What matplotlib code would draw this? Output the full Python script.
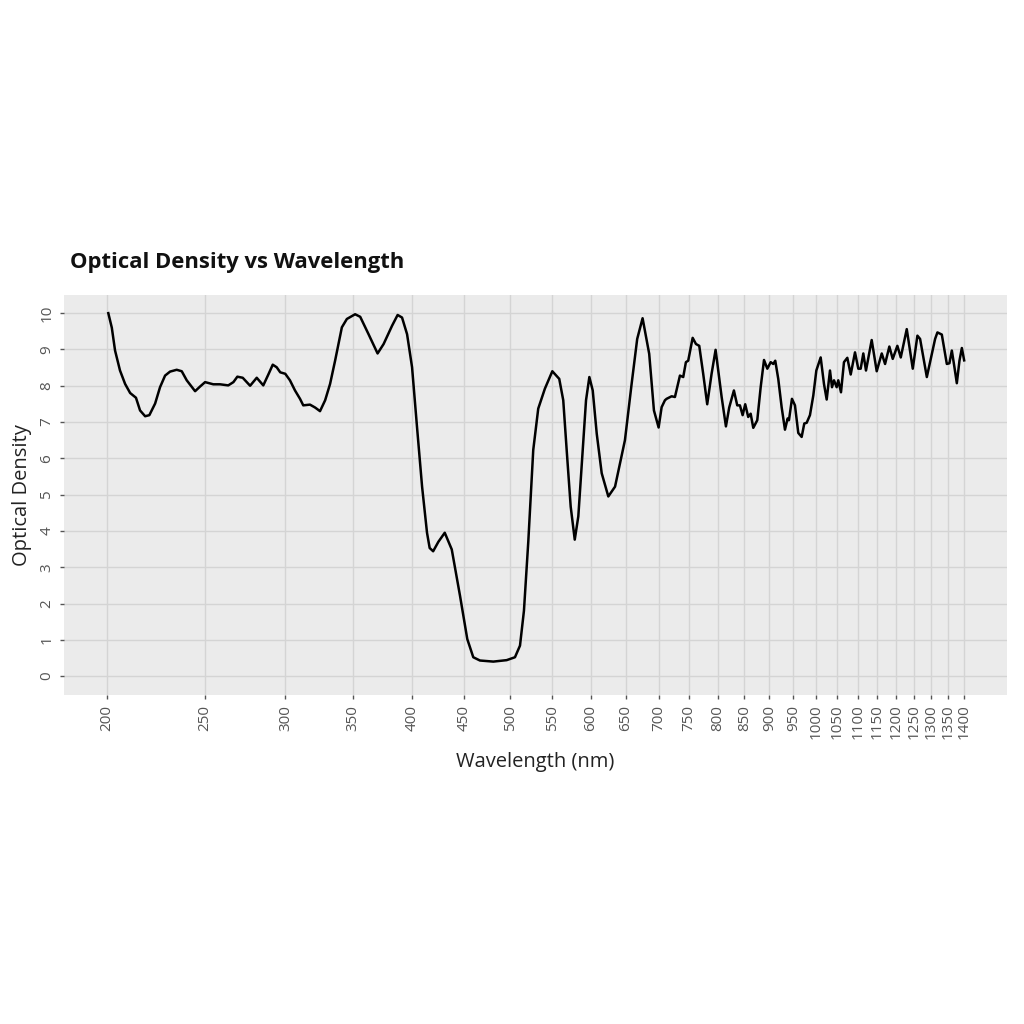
import numpy as np
import matplotlib
matplotlib.use("Agg")
import matplotlib.pyplot as plt
from matplotlib.ticker import FixedLocator, NullLocator

plt.rcParams['font.family'] = ['Open Sans', 'DejaVu Sans']

# === Data ===
wavelength = [
    200.7, 202.3, 203.8, 206.1, 208.5, 210.9, 213.7, 215.7, 218.2, 220.3,
    223.2, 225.7, 228.3, 230.9, 234.4, 237.1, 239.8, 244.4, 247.2, 250.0,
    254.7, 258.6, 263.5, 266.6, 269.0, 272.3, 276.9, 281.1, 285.3, 288.6,
    291.5, 294.1, 296.5, 299.9, 303.1, 306.6, 310.1, 312.4, 317.2, 320.9,
    324.5, 328.3, 332.0, 335.8, 341.0, 344.9, 351.4, 355.5, 362.3, 369.8,
    374.9, 382.1, 387.0, 390.9, 395.4, 399.9, 404.4, 409.1, 413.7, 416.2,
    419.5, 424.5, 430.7, 437.6, 445.9, 453.3, 459.5, 466.5, 480.9, 495.7,
    505.1, 510.9, 515.5, 520.6, 526.5, 532.5, 540.6, 549.8, 558.5, 563.6,
    568.0, 573.2, 578.5, 583.2, 589.1, 593.5, 598.0, 602.6, 608.1, 615.0,
    624.3, 633.9, 648.3, 658.2, 666.6, 674.8, 685.0, 692.4, 699.8, 704.6,
    709.9, 712.6, 720.8, 726.2, 734.5, 740.0, 744.5, 748.4, 756.0, 761.7,
    767.4, 774.3, 781.4, 789.2, 796.4, 807.4, 815.3, 821.4, 830.2, 836.5,
    841.6, 846.8, 851.8, 857.6, 862.4, 867.5, 875.4, 882.2, 888.9, 895.6,
    902.5, 907.8, 911.9, 918.1, 925.2, 932.2, 937.9, 940.7, 947.1, 953.6,
    960.8, 968.2, 974.0, 979.3, 986.6, 994.1, 1001.0, 1010.9, 1018.5, 1024.8,
    1032.5, 1037.2, 1041.9, 1048.3, 1052.1, 1058.6, 1065.8, 1073.9, 1082.2, 1092.8,
    1101.0, 1107.0, 1113.6, 1120.4, 1135.0, 1148.0, 1161.2, 1170.0, 1181.4, 1190.5,
    1203.1, 1212.4, 1229.0, 1245.9, 1259.1, 1266.8, 1286.3, 1310.7, 1317.6, 1330.8,
    1346.0, 1354.0, 1361.4, 1369.5, 1376.9, 1385.2, 1392.7, 1400.0,
]
optical_density = [
    10.0, 9.60, 8.97, 8.42, 8.05, 7.80, 7.67, 7.32, 7.16, 7.19,
    7.51, 7.96, 8.28, 8.39, 8.44, 8.40, 8.15, 7.85, 7.98, 8.10,
    8.04, 8.04, 8.01, 8.10, 8.25, 8.22, 8.00, 8.22, 8.01, 8.31,
    8.58, 8.51, 8.37, 8.33, 8.15, 7.87, 7.64, 7.46, 7.48, 7.40,
    7.30, 7.60, 8.05, 8.69, 9.61, 9.84, 9.97, 9.90, 9.42, 8.89,
    9.15, 9.65, 9.95, 9.88, 9.42, 8.51, 6.87, 5.22, 3.95, 3.53,
    3.44, 3.70, 3.95, 3.49, 2.21, 1.02, 0.52, 0.43, 0.40, 0.44,
    0.52, 0.84, 1.80, 3.70, 6.23, 7.37, 7.92, 8.40, 8.19, 7.60,
    6.23, 4.67, 3.76, 4.40, 6.23, 7.60, 8.24, 7.87, 6.68, 5.59,
    4.95, 5.22, 6.50, 8.05, 9.29, 9.86, 8.88, 7.32, 6.85, 7.41,
    7.60, 7.64, 7.71, 7.69, 8.28, 8.24, 8.65, 8.69, 9.32, 9.15,
    9.10, 8.33, 7.49, 8.33, 8.99, 7.69, 6.88, 7.40, 7.87, 7.46,
    7.46, 7.19, 7.49, 7.14, 7.23, 6.84, 7.05, 7.96, 8.71, 8.47,
    8.65, 8.60, 8.69, 8.19, 7.41, 6.79, 7.10, 7.05, 7.64, 7.46,
    6.70, 6.59, 6.96, 6.98, 7.19, 7.73, 8.42, 8.78, 8.05, 7.62,
    8.42, 7.96, 8.15, 7.96, 8.15, 7.82, 8.65, 8.77, 8.31, 8.92,
    8.47, 8.47, 8.89, 8.42, 9.26, 8.40, 8.89, 8.60, 9.08, 8.74,
    9.10, 8.78, 9.56, 8.47, 9.38, 9.29, 8.24, 9.29, 9.47, 9.41,
    8.60, 8.62, 8.97, 8.51, 8.07, 8.69, 9.04, 8.70,
]
x_ticks = list(range(200, 1401, 50))
y_ticks = list(range(0, 11))

# === Plot ===
fig = plt.figure(figsize=(10.24, 10.24), dpi=100)
ax = fig.add_axes([0.0625, 0.3213, 0.9209, 0.3906])
ax.set_facecolor('#ebebeb')

ax.plot(wavelength, optical_density, color='black', linewidth=1.8)

ax.set_xscale('log')
ax.set_xlim(181.5, 1543)
ax.set_ylim(-0.52, 10.5)
ax.xaxis.set_major_locator(FixedLocator(x_ticks))
ax.xaxis.set_minor_locator(NullLocator())
ax.set_xticklabels([str(t) for t in x_ticks], rotation=90)
ax.set_yticks(y_ticks)
ax.set_yticklabels([str(t) for t in y_ticks], rotation=90, va='center')

ax.grid(True, color='#d4d4d4', linewidth=1.0)
ax.set_axisbelow(True)
for s in ax.spines.values():
    s.set_visible(False)
ax.tick_params(axis='both', colors='#555555', labelcolor='#555555',
               labelsize=11, length=3, width=1, pad=4)

ax.set_xlabel('Wavelength (nm)', fontsize=14.5, color='#222222', labelpad=9)
ax.set_ylabel('Optical Density', fontsize=14.5, color='#222222', labelpad=5)

fig.text(0.068, 0.744, 'Optical Density vs Wavelength', fontsize=15.8,
         fontweight='bold', color='#111111', va='center', ha='left')

fig.savefig('out.png', dpi=100, facecolor='white')
